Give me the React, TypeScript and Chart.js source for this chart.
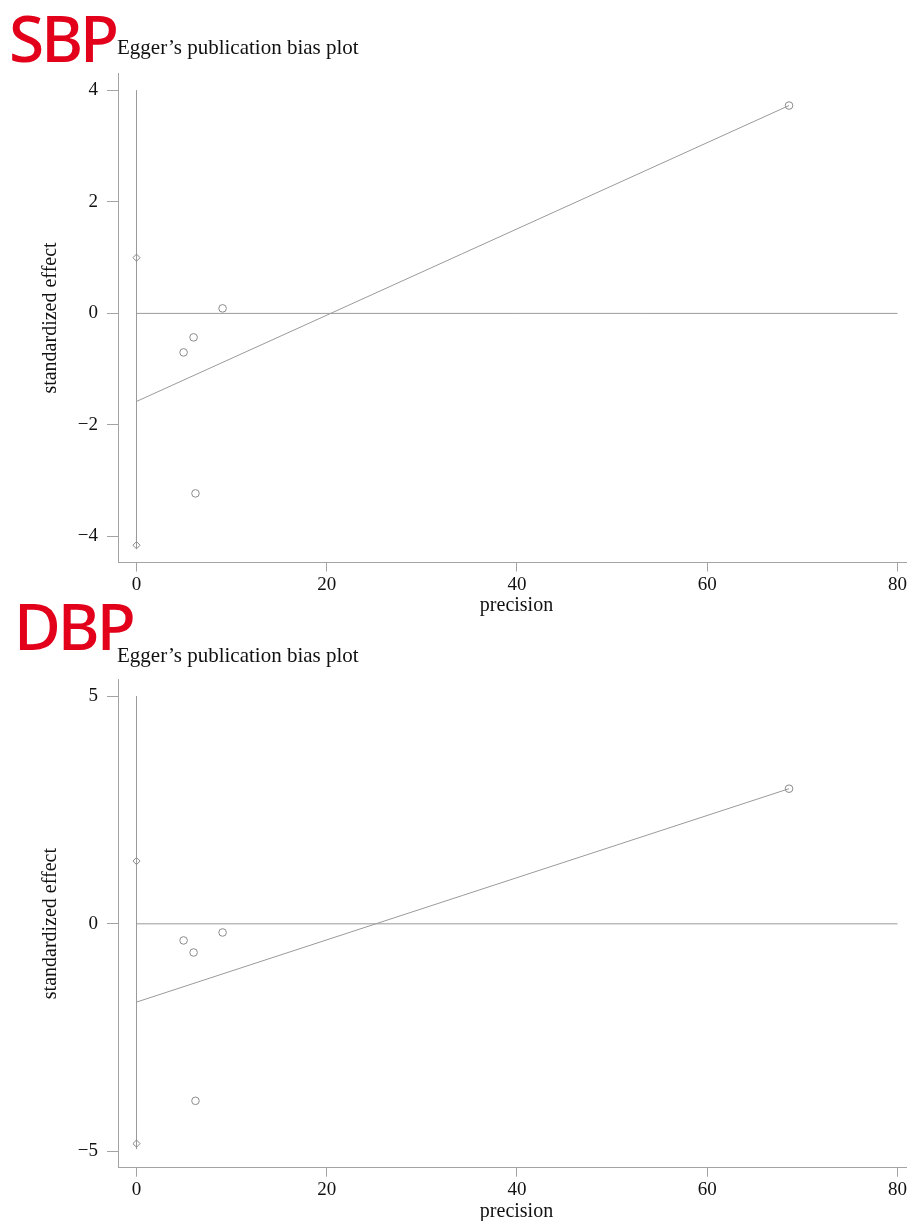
import React, { useEffect, useRef } from "react";
import { Chart, registerables } from "chart.js";

Chart.register(...registerables);

// ---- shared ----
const xTicks = [0, 20, 40, 60, 80];
const zeroLineX = [0, 80];
const zeroLineY = [0, 0];
const precision = [68.6, 9.05, 6.0, 4.95, 6.2];

// ---- SBP ----
const sbpEffect = [3.73, 0.09, -0.43, -0.7, -3.23];
const sbpCiX = [0, 0];
const sbpCiY = [1.0, -4.16];
const sbpFitX = [0, 68.6];
const sbpFitY = [-1.58, 3.73];
const sbpVertX = [0, 0];
const sbpVertY = [4, -4.22];
const sbpYTicks = [-4, -2, 0, 2, 4];

// ---- DBP ----
const dbpEffect = [2.97, -0.19, -0.63, -0.365, -3.89];
const dbpCiX = [0, 0];
const dbpCiY = [1.38, -4.83];
const dbpFitX = [0, 68.6];
const dbpFitY = [-1.72, 2.97];
const dbpVertX = [0, 0];
const dbpVertY = [5, -4.95];
const dbpYTicks = [-5, 0, 5];

const AXIS = "#a3a3a3";
const LINE = "#9a9a9a";
const PT = "#8a8a8a";
const TXT = "#111111";
const SERIF = "'Liberation Serif', 'Times New Roman', serif";

const pts = (xs: number[], ys: number[]) => xs.map((x, i) => ({ x, y: ys[i] }));
const fmt = (v: any) => String(v).replace("-", "\u2212");

type P = {
  height: number;
  chartTop: number;
  chartBottom: number;
  yMin: number;
  yMax: number;
  yTicks: number[];
  effect: number[];
  ciX: number[];
  ciY: number[];
  fitX: number[];
  fitY: number[];
  vertX: number[];
  vertY: number[];
};

function makeConfig(p: P): any {
  const lineDs = (data: any[], color: string) => ({
    type: "line",
    data,
    showLine: true,
    borderColor: color,
    borderWidth: 1,
    pointRadius: 0,
    fill: false,
    tension: 0,
  });
  return {
    type: "scatter",
    data: {
      datasets: [
        {
          data: pts(precision, p.effect),
          pointStyle: "circle",
          pointRadius: 3.8,
          borderColor: PT,
          backgroundColor: "rgba(0,0,0,0)",
          borderWidth: 1,
        },
        {
          data: pts(p.ciX, p.ciY),
          pointStyle: "rectRot",
          pointRadius: 3.6,
          borderColor: PT,
          backgroundColor: "rgba(0,0,0,0)",
          borderWidth: 1,
        },
        lineDs(pts(p.fitX, p.fitY), LINE),
        lineDs(pts(zeroLineX, zeroLineY), LINE),
        lineDs(pts(p.vertX, p.vertY), "#9a9a9a"),
      ],
    },
    options: {
      animation: false,
      responsive: false,
      devicePixelRatio: 1,
      layout: { autoPadding: false, padding: { top: p.chartTop, left: 0, right: 0, bottom: 0 } },
      plugins: { legend: { display: false }, tooltip: { enabled: false }, title: { display: false } },
      scales: {
        x: {
          type: "linear",
          min: -1.945,
          max: 81,
          afterBuildTicks: (s: any) => {
            s.ticks = xTicks.map((v) => ({ value: v }));
          },
          afterFit: (s: any) => {
            s.height = p.height - p.chartBottom;
            s.paddingLeft = 0;
            s.paddingRight = 0;
          },
          grid: { drawOnChartArea: false, drawTicks: true, tickLength: 9, color: AXIS, tickColor: AXIS },
          border: { display: true, color: AXIS, width: 1 },
          ticks: { font: { family: SERIF, size: 19 }, color: TXT, padding: 2, maxRotation: 0, autoSkip: false, callback: fmt },
          title: { display: false },
        },
        y: {
          type: "linear",
          min: p.yMin,
          max: p.yMax,
          afterBuildTicks: (s: any) => {
            s.ticks = p.yTicks.map((v) => ({ value: v }));
          },
          afterFit: (s: any) => {
            s.width = 118;
            s.paddingTop = 0;
            s.paddingBottom = 0;
          },
          grid: { drawOnChartArea: false, drawTicks: true, tickLength: 11, color: AXIS, tickColor: AXIS },
          border: { display: true, color: AXIS, width: 1 },
          ticks: { font: { family: SERIF, size: 19 }, color: TXT, padding: 9, autoSkip: false, callback: fmt },
          title: {
            display: true,
            text: "standardized effect",
            font: { family: SERIF, size: 20, lineHeight: 1.2 },
            color: TXT,
            padding: { top: 39, bottom: 0 },
          },
        },
      },
    },
  };
}

function ChartCanvas({ p, top }: { p: P; top: number }) {
  const ref = useRef<HTMLCanvasElement | null>(null);
  useEffect(() => {
    if (!ref.current) return;
    const c = new Chart(ref.current, makeConfig(p));
    return () => c.destroy();
  }, []);
  return (
    <canvas
      ref={ref}
      width={907}
      height={p.height}
      style={{ position: "absolute", left: 0, top, width: 907, height: p.height }}
    />
  );
}

const sbpParams: P = {
  height: 620,
  chartTop: 73.5,
  chartBottom: 562.5,
  yMin: -4.47,
  yMax: 4.305,
  yTicks: sbpYTicks,
  effect: sbpEffect,
  ciX: sbpCiX,
  ciY: sbpCiY,
  fitX: sbpFitX,
  fitY: sbpFitY,
  vertX: sbpVertX,
  vertY: sbpVertY,
};

const dbpParams: P = {
  height: 601,
  chartTop: 59.5,
  chartBottom: 547.7,
  yMin: -5.36,
  yMax: 5.37,
  yTicks: dbpYTicks,
  effect: dbpEffect,
  ciX: dbpCiX,
  ciY: dbpCiY,
  fitX: dbpFitX,
  fitY: dbpFitY,
  vertX: dbpVertX,
  vertY: dbpVertY,
};

const redLabel: React.CSSProperties = {
  position: "absolute",
  fontFamily: "'Noto Sans', sans-serif",
  fontSize: 64,
  fontWeight: 500,
  lineHeight: 1,
  color: "#e2001a",
  letterSpacing: -3,
  whiteSpace: "nowrap",
};

const titleStyle: React.CSSProperties = {
  position: "absolute",
  fontFamily: SERIF,
  fontSize: 21,
  lineHeight: 1,
  color: TXT,
  whiteSpace: "nowrap",
};

const xTitleStyle: React.CSSProperties = {
  position: "absolute",
  left: 416.5,
  width: 200,
  textAlign: "center",
  fontFamily: SERIF,
  fontSize: 20,
  lineHeight: "24px",
  color: TXT,
  whiteSpace: "nowrap",
};

export default function App() {
  return (
    <div
      style={{
        position: "absolute",
        left: 0,
        top: 0,
        width: 907,
        height: 1221,
        overflow: "hidden",
        background: "#ffffff",
      }}
    >
      <ChartCanvas p={sbpParams} top={0} />
      <ChartCanvas p={dbpParams} top={620} />
      <div style={{ ...redLabel, left: 9, top: 6 }}>SBP</div>
      <div style={{ ...titleStyle, left: 117, top: 37.4 }}>Egger’s publication bias plot</div>
      <div style={{ ...xTitleStyle, top: 592 }}>precision</div>
      <div style={{ ...redLabel, left: 14, top: 594 }}>DBP</div>
      <div style={{ ...titleStyle, left: 117, top: 645.4 }}>Egger’s publication bias plot</div>
      <div style={{ ...xTitleStyle, top: 1198 }}>precision</div>
    </div>
  );
}
